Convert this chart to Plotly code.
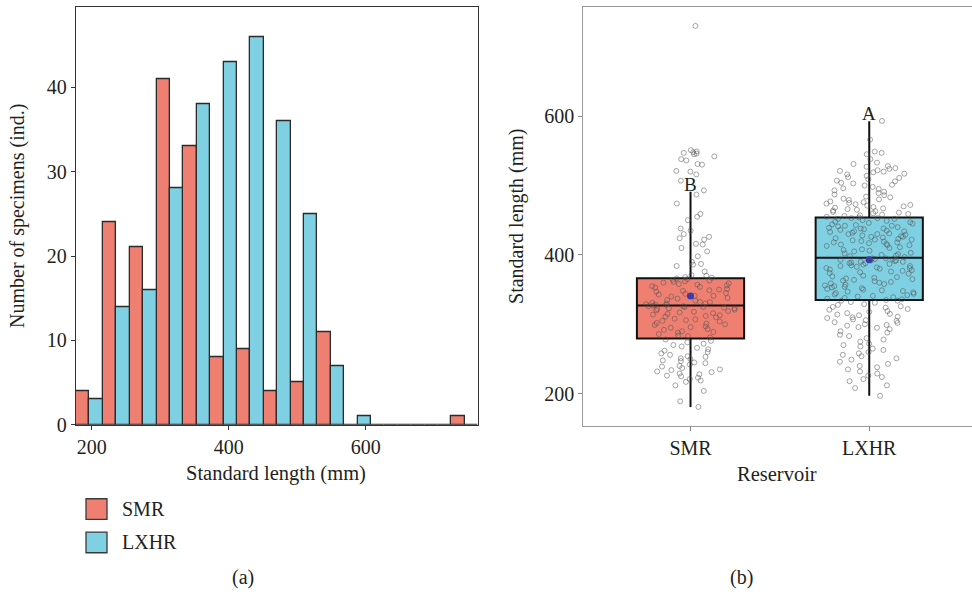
import plotly.graph_objects as go

# ---------------- data ----------------
bin_centers = [196.8, 235.9, 275.1, 314.2, 353.4, 392.5, 431.6, 470.8,
               509.9, 549.1, 588.2, 627.3, 666.5, 705.6, 744.8]
smr_counts = [4, 24, 21, 41, 33, 8, 9, 4, 5, 11, 0, 0, 0, 0, 1]
lxhr_counts = [3, 14, 16, 28, 38, 43, 46, 36, 25, 7, 1, 0, 0, 0, 0]

reservoirs = ["SMR", "LXHR"]
q1_vals = [279.7, 334.9]
median_vals = [327.0, 395.8]
q3_vals = [366.5, 453.8]
lower_whisker = [181.0, 197.0]
upper_whisker = [491.0, 592.5]
mean_vals = [340.6, 393.0]
group_letters = ["B", "A"]

smr_values = [
    730,
    549, 546, 542, 548, 551, 545, 547, 538, 531, 530, 536,
    521, 520, 516, 507, 493,
    487, 474, 459, 455,
    450, 435, 426, 430, 438, 422, 424, 415, 416,
    410, 405, 398, 390, 387, 384, 386, 376,
    334, 335, 337, 338, 340, 341, 341, 343, 344, 345, 347, 348, 349, 350, 351,
    353, 354, 355, 356, 357, 358, 359, 360, 361, 362, 363, 364, 365, 366, 367,
    368, 370, 371,
    327, 328, 328, 329, 330, 330, 331, 332, 332,
    295, 296, 297, 299, 300, 301, 302, 304, 305, 306, 307, 308, 310, 311, 312,
    313, 314, 315, 316, 317, 318, 319, 320, 321, 322, 323, 323, 324, 325, 325,
    326, 326,
    256, 258, 260, 262, 264, 266, 268, 270, 272, 274, 276, 278,
    281, 283, 284, 286, 288, 289, 290, 292, 293,
    217, 219, 221, 223, 225, 226, 228, 229, 231, 232, 234, 235, 237, 239, 240,
    242, 244, 245, 247, 248, 250, 251, 253, 254,
    181, 189, 204, 212,
]

lxhr_values = [
    593,
    566, 549, 545, 547, 538, 533, 531,
    528, 527, 525, 524, 522, 521, 520, 519, 517, 516, 514, 512, 511, 509, 507,
    506, 504, 503, 501, 500, 498, 496, 495, 493, 491,
    452, 452, 453, 453, 454,
    455, 456, 457, 458, 459, 460, 461, 462, 463, 464, 465, 466, 467, 468, 469,
    470, 471, 472, 473, 474, 475, 476, 477, 479, 480, 481, 483, 484, 486, 487, 489,
    413, 414, 414, 415, 416, 417, 418, 418, 419, 420, 421, 422, 422, 423, 424,
    425, 426, 426, 427, 428, 429, 430, 430, 431, 432, 433, 434, 434, 435, 436,
    437, 438, 438, 439, 440, 441, 442, 442, 443, 444, 445, 446, 447, 448, 449, 450,
    397, 398, 399, 400, 401, 402, 403, 405, 406, 407, 408, 410, 411,
    373, 374, 375, 376, 377, 378, 379, 380, 381, 381, 382, 383, 384, 384, 385,
    386, 387, 388, 388, 389, 390, 390, 391, 392, 392, 393, 394, 394, 395, 395,
    334, 334, 335,
    336, 337, 338, 339, 340, 341, 342, 343, 344, 345, 346, 347, 348, 349, 350,
    351, 352, 353, 354, 355, 356, 357, 358, 359, 360, 361, 362, 363, 364, 365,
    366, 367, 368, 369, 370,
    295, 296, 298, 299, 300, 302, 303, 305, 306, 307, 309, 310, 311, 313, 314,
    315, 316, 318, 319, 321, 322, 324, 325, 326, 328, 329, 331, 332,
    256, 258, 260, 263, 265, 268, 270, 272, 275, 278, 280, 283, 285, 288, 290, 293,
    218, 221, 224, 226, 229, 232, 235, 238, 240, 243, 246, 249, 251, 254,
    197, 208, 212,
]

# ---------------- style ----------------
SMR_COLOR = "#EF7F71"
LXHR_COLOR = "#7ED0E2"
FONT = "Liberation Serif"
TXT = "#231F20"
W, H = 972, 604

fig = go.Figure()

# ---- (a) histogram ----
fig.add_trace(go.Bar(x=bin_centers, y=smr_counts, name="SMR",
                     marker=dict(color=SMR_COLOR, line=dict(color="#2b2b2b", width=1.3)),
                     xaxis="x", yaxis="y", showlegend=False))
fig.add_trace(go.Bar(x=bin_centers, y=lxhr_counts, name="LXHR",
                     marker=dict(color=LXHR_COLOR, line=dict(color="#2b2b2b", width=1.3)),
                     xaxis="x", yaxis="y", showlegend=False))

# ---- (b) boxplot ----
colors = [SMR_COLOR, LXHR_COLOR]
for i, r in enumerate(reservoirs):
    fig.add_trace(go.Box(
        x=[r], q1=[q1_vals[i]], median=[median_vals[i]], q3=[q3_vals[i]],
        lowerfence=[lower_whisker[i]], upperfence=[upper_whisker[i]],
        fillcolor=colors[i], line=dict(color="#111111", width=2),
        whiskerwidth=0, width=0.6, boxpoints=False,
        xaxis="x2", yaxis="y2", showlegend=False, name=r))

for r, vals in zip(reservoirs, [smr_values, lxhr_values]):
    fig.add_trace(go.Box(
        x=[r] * len(vals), y=vals, boxpoints="all", jitter=1, pointpos=0,
        width=0.5, fillcolor="rgba(0,0,0,0)",
        line=dict(color="rgba(0,0,0,0)", width=0),
        marker=dict(symbol="circle-open", size=5, color="rgba(80,80,80,0.5)",
                    line=dict(width=1)),
        xaxis="x2", yaxis="y2", showlegend=False, name=r, hoveron="points"))

fig.add_trace(go.Scatter(x=reservoirs, y=mean_vals, mode="markers",
                         marker=dict(color="#3C3CA8", size=7),
                         xaxis="x2", yaxis="y2", showlegend=False))

# group letters
annotations = []
for r, top, lab in zip(reservoirs, upper_whisker, group_letters):
    annotations.append(dict(x=r, y=top, xref="x2", yref="y2", text=lab,
                            showarrow=False, yanchor="bottom", yshift=-5,
                            font=dict(family=FONT, size=19, color=TXT)))

def px_x(p):
    return p / W

def px_y(p):
    return 1 - p / H

def label(x, y, text, size=20, angle=0, xanchor="center"):
    return dict(x=px_x(x), y=px_y(y), xref="paper", yref="paper", text=text,
                textangle=angle, showarrow=False, xanchor=xanchor, yanchor="middle",
                font=dict(family=FONT, size=size, color=TXT))

# axis titles and panel labels
annotations += [
    label(276, 482, "Standard length (mm)", 20.5),
    label(18, 220, "Number of specimens (ind.)", 20, -90),
    label(777, 483, "Reservoir", 20.5),
    label(517, 220, "Standard length (mm)", 20, -90),
    label(243, 588, "(a)", 20),
    label(741, 588, "(b)", 20),
]

# legend for panel (a)
shapes = []
for name, col, ytop in [("SMR", SMR_COLOR, 508), ("LXHR", LXHR_COLOR, 542)]:
    shapes.append(dict(type="rect", xref="paper", yref="paper",
                       x0=px_x(86), x1=px_x(107), y0=px_y(ytop + 21), y1=px_y(ytop),
                       fillcolor=col, line=dict(color="#3a3a3a", width=1.3)))
    annotations.append(label(120, ytop + 10.5, name, 20, 0, "left"))

tickfont = dict(family=FONT, size=20, color=TXT)

fig.update_layout(
    width=W, height=H,
    margin=dict(l=0, r=0, t=0, b=0),
    paper_bgcolor="white", plot_bgcolor="white",
    barmode="group", bargap=0, bargroupgap=0,
    boxmode="overlay",
    annotations=annotations, shapes=shapes,
    xaxis=dict(domain=[px_x(76), px_x(478)], range=[177.1, 764],
               tickvals=[200, 400, 600], ticks="outside", ticklen=4,
               tickcolor="#333", showline=True, linecolor="#333", linewidth=1.3,
               mirror=True, showgrid=False, zeroline=False, tickfont=tickfont,
               anchor="y"),
    yaxis=dict(domain=[px_y(432.7), px_y(7.3)], range=[0, 49.5],
               tickvals=[0, 10, 20, 30, 40], ticks="outside", ticklen=4,
               tickcolor="#333", showline=True, linecolor="#333", linewidth=1.3,
               mirror=True, showgrid=False, zeroline=False, tickfont=tickfont,
               anchor="x"),
    xaxis2=dict(domain=[px_x(583.3), 1.0], type="category",
                categoryorder="array", categoryarray=reservoirs,
                range=[-0.6, 1.575], ticks="outside", ticklen=4,
                tickcolor="#888", showline=True, linecolor="#999", linewidth=1.3,
                mirror=True, showgrid=False, zeroline=False, tickfont=tickfont,
                anchor="y2"),
    yaxis2=dict(domain=[px_y(434), px_y(7.3)], range=[153.3, 757],
                tickvals=[200, 400, 600], ticks="outside", ticklen=4,
                tickcolor="#888", showline=True, linecolor="#999", linewidth=1.3,
                showgrid=False, zeroline=False, tickfont=tickfont, anchor="x2"),
)

fig.write_html("out.html",
               config={"displayModeBar": False},
               post_script="document.documentElement.style.margin='0px';"
                           "document.body.style.margin='0px';"
                           "document.body.style.padding='0px';"
                           "document.body.style.overflow='hidden';")
